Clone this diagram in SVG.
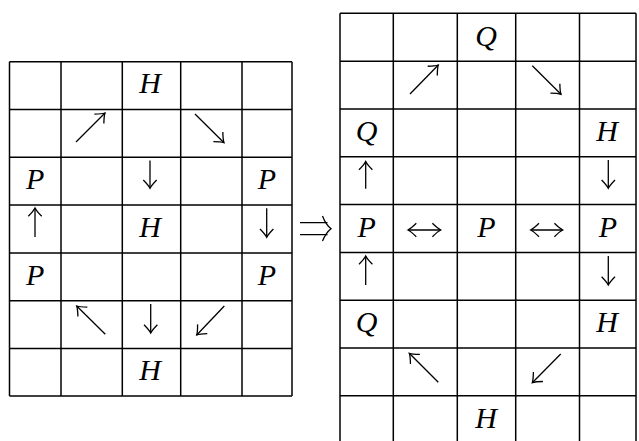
<svg xmlns="http://www.w3.org/2000/svg" width="639" height="441" viewBox="0 0 639 441">
<style>
.grid line{stroke:#000;stroke-width:1.5}
.l{font-family:"Liberation Serif","Times New Roman",serif;font-style:italic;font-size:30px;text-anchor:middle;fill:#000}
.ar{stroke:#000;stroke-width:1.3;fill:none;marker-end:url(#hd)}
.ar2{stroke:#000;stroke-width:1.3;fill:none;marker-end:url(#hd);marker-start:url(#hd)}
.ln{stroke:#000;stroke-width:1.3;fill:none}
</style>
<defs>
<marker id="hd" viewBox="-10 -8 12 16" refX="0" refY="0" markerWidth="12" markerHeight="16" markerUnits="userSpaceOnUse" orient="auto-start-reverse" overflow="visible">
<path d="M-8.3,-6.7 Q-3,-1.5 0,0 Q-3,1.5 -8.3,6.7" stroke="#000" stroke-width="1.3" fill="none"/>
</marker>
</defs>
<rect width="639" height="441" fill="#fff"/>
<g id="left-grid" class="grid">
<line x1="9.5" y1="61.7" x2="9.5" y2="396"/>
<line x1="61" y1="61.7" x2="61" y2="396"/>
<line x1="122.3" y1="61.7" x2="122.3" y2="396"/>
<line x1="180.7" y1="61.7" x2="180.7" y2="396"/>
<line x1="242" y1="61.7" x2="242" y2="396"/>
<line x1="292" y1="61.7" x2="292" y2="396"/>
<line x1="9.5" y1="61.7" x2="292" y2="61.7"/>
<line x1="9.5" y1="109.5" x2="292" y2="109.5"/>
<line x1="9.5" y1="157.3" x2="292" y2="157.3"/>
<line x1="9.5" y1="205" x2="292" y2="205"/>
<line x1="9.5" y1="253" x2="292" y2="253"/>
<line x1="9.5" y1="300.7" x2="292" y2="300.7"/>
<line x1="9.5" y1="348.5" x2="292" y2="348.5"/>
<line x1="9.5" y1="396" x2="292" y2="396"/>
</g>
<g id="left-labels">
<text class="l" x="150" y="93">H</text>
<text class="l" x="35.2" y="189">P</text>
<text class="l" x="267" y="189">P</text>
<text class="l" x="150" y="236.5">H</text>
<text class="l" x="35.2" y="284.5">P</text>
<text class="l" x="267" y="284.5">P</text>
<text class="l" x="150" y="380">H</text>
</g>
<g id="left-arrows">
<path class="ar" d="M76,142 L105,113"/>
<path class="ar" d="M195,114 L224,142.7"/>
<path class="ar" d="M150,160.5 L150,188.3"/>
<path class="ar" d="M35,237 L35,208"/>
<path class="ar" d="M266.7,208.3 L266.7,237.3"/>
<path class="ar" d="M105.3,334.3 L76.7,306"/>
<path class="ar" d="M150.7,304 L150.7,333"/>
<path class="ar" d="M224.3,306 L196.7,335"/>
</g>
<g id="implies">
<path class="ln" d="M300,222.7 H327.5 M300,234.7 H327.5"/>
<path class="ln" d="M322.5,216 Q326,225 331,228.7 Q326,232.5 322.5,241"/>
</g>
<g id="right-grid" class="grid">
<line x1="340" y1="13.3" x2="340" y2="441"/>
<line x1="393.3" y1="13.3" x2="393.3" y2="441"/>
<line x1="457.3" y1="13.3" x2="457.3" y2="441"/>
<line x1="515.7" y1="13.3" x2="515.7" y2="441"/>
<line x1="579.5" y1="13.3" x2="579.5" y2="441"/>
<line x1="636" y1="13.3" x2="636" y2="441"/>
<line x1="340" y1="13.3" x2="636" y2="13.3"/>
<line x1="340" y1="61.2" x2="636" y2="61.2"/>
<line x1="340" y1="109" x2="636" y2="109"/>
<line x1="340" y1="156.8" x2="636" y2="156.8"/>
<line x1="340" y1="204.6" x2="636" y2="204.6"/>
<line x1="340" y1="252.4" x2="636" y2="252.4"/>
<line x1="340" y1="300.2" x2="636" y2="300.2"/>
<line x1="340" y1="348" x2="636" y2="348"/>
<line x1="340" y1="395.8" x2="636" y2="395.8"/>
</g>
<g id="right-labels">
<text class="l" x="486" y="45.5">Q</text>
<text class="l" x="366.6" y="140.5">Q</text>
<text class="l" x="607" y="140.5">H</text>
<text class="l" x="366.6" y="236.5">P</text>
<text class="l" x="486.5" y="236.5">P</text>
<text class="l" x="607.8" y="236.5">P</text>
<text class="l" x="366.6" y="332">Q</text>
<text class="l" x="607" y="332">H</text>
<text class="l" x="486" y="427.5">H</text>
</g>
<g id="right-arrows">
<path class="ar" d="M410,94 L438.3,65"/>
<path class="ar" d="M532.3,65.7 L561,94.3"/>
<path class="ar" d="M365.7,188.8 L365.7,161.5"/>
<path class="ar" d="M608.3,160 L608.3,188.3"/>
<path class="ar2" d="M408,230 L440.7,230"/>
<path class="ar2" d="M530.7,230 L562.7,230"/>
<path class="ar" d="M365.7,285 L365.7,256"/>
<path class="ar" d="M608.3,256 L608.3,285"/>
<path class="ar" d="M438.3,382.3 L409.3,353.3"/>
<path class="ar" d="M560.7,354 L532.3,382.7"/>
</g>
</svg>
